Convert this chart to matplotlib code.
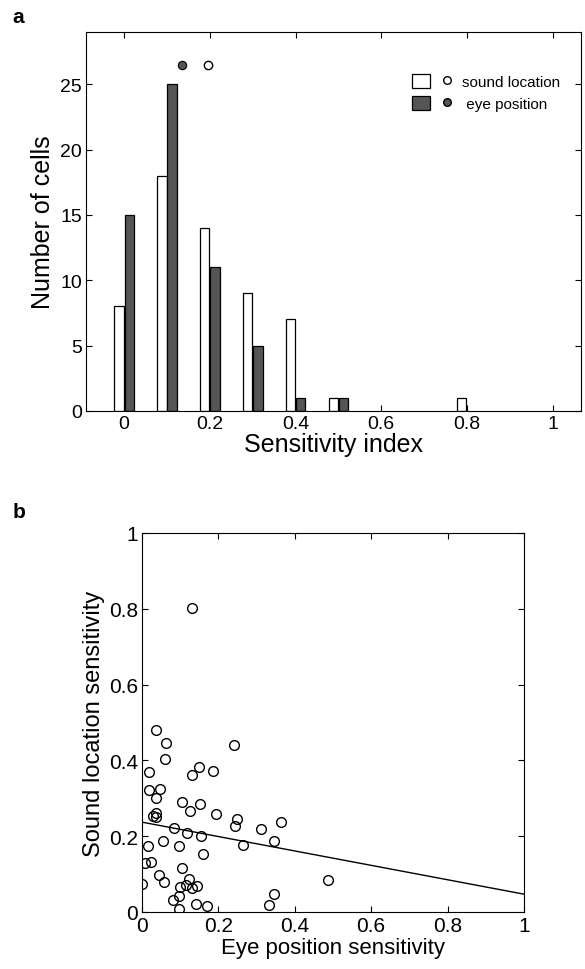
import matplotlib
matplotlib.use("Agg")
import matplotlib.pyplot as plt
from matplotlib.patches import Rectangle
from matplotlib.lines import Line2D
from matplotlib.legend_handler import HandlerTuple
import numpy as np

plt.rcParams['font.family'] = ['Liberation Sans', 'DejaVu Sans']

# panel a: histogram of sensitivity index
sound_bins = [0.0, 0.1, 0.2, 0.3, 0.4, 0.5, 0.8]
sound_counts = [8, 18, 14, 9, 7, 1, 1]
eye_bins = [0.0, 0.1, 0.2, 0.3, 0.4, 0.5]
eye_counts = [15, 25, 11, 5, 1, 1]
sound_median = 0.195
eye_median = 0.135
median_row = 26.5

# panel b: eye position vs sound location sensitivity
eye_sens = [0.132, 0.038, 0.064, 0.060, 0.019, 0.241, 0.130, 0.149, 0.186,
            0.019, 0.048, 0.037, 0.105, 0.151, 0.125, 0.036, 0.038, 0.030,
            0.194, 0.250, 0.243, 0.364, 0.311, 0.084, 0.118, 0.155, 0.346,
            0.055, 0.017, 0.098, 0.264, 0.159, 0.007, 0.024, 0.104, 0.045,
            0.058, 0.001, 0.124, 0.114, 0.099, 0.131, 0.144, 0.488, 0.346,
            0.333, 0.096, 0.081, 0.141, 0.170, 0.097]
sound_sens = [0.801, 0.481, 0.446, 0.404, 0.370, 0.441, 0.361, 0.382, 0.373,
              0.323, 0.325, 0.300, 0.291, 0.285, 0.267, 0.260, 0.250, 0.252,
              0.258, 0.244, 0.228, 0.238, 0.219, 0.222, 0.208, 0.200, 0.187,
              0.187, 0.175, 0.175, 0.178, 0.153, 0.129, 0.132, 0.117, 0.098,
              0.080, 0.075, 0.088, 0.071, 0.067, 0.064, 0.069, 0.085, 0.047,
              0.018, 0.043, 0.032, 0.022, 0.016, 0.008]
fit_intercept = 0.237
fit_slope = -0.19

dark = '#555555'
fig = plt.figure(figsize=(5.85, 9.7), dpi=100)

# ---- panel a
ax = fig.add_axes([0.147, 0.5753, 0.846, 0.3907])
w = 0.022
ax.bar(np.array(sound_bins) - 0.012, sound_counts, width=w, color='white',
       edgecolor='black', linewidth=0.9)
ax.bar(np.array(eye_bins) + 0.012, eye_counts, width=w, color=dark,
       edgecolor='black', linewidth=0.9)
ax.plot([eye_median], [median_row], 'o', ms=6, mfc=dark, mec='black', mew=0.8)
ax.plot([sound_median], [median_row], 'o', ms=6, mfc='white', mec='black', mew=1)
ax.set_xlim(-0.089, 1.066)
ax.set_ylim(0, 29)
ax.set_xticks([0, 0.2, 0.4, 0.6, 0.8, 1])
ax.set_xticklabels(['0', '0.2', '0.4', '0.6', '0.8', '1'])
ax.set_yticks([0, 5, 10, 15, 20, 25])
ax.tick_params(direction='in', top=True, right=True, length=4, labelsize=14,
               pad=3)
ax.set_xlabel('Sensitivity index', fontsize=18, labelpad=0)
ax.set_ylabel('Number of cells', fontsize=18, labelpad=4)

h_sound = (Rectangle((0, 0), 1, 1, fc='white', ec='black', lw=0.9),
           Line2D([], [], ls='none', marker='o', ms=5.5, mfc='white', mec='black'))
h_eye = (Rectangle((0, 0), 1, 1, fc=dark, ec='black', lw=0.9),
         Line2D([], [], ls='none', marker='o', ms=5.5, mfc=dark, mec='black'))
ax.legend([h_sound, h_eye], ['sound location', ' eye position'],
          handler_map={tuple: HandlerTuple(ndivide=None, pad=0.5)},
          frameon=False, fontsize=11, loc='upper right',
          bbox_to_anchor=(0.985, 0.925), handlelength=2.9, handleheight=1.0,
          handletextpad=0.35, labelspacing=0.45)

fig.text(0.022, 0.982, 'a', fontsize=15, fontweight='bold', va='center')

# ---- panel b
bx = fig.add_axes([0.2427, 0.0588, 0.653, 0.3907])
bx.plot(eye_sens, sound_sens, 'o', ls='none', ms=7, mfc='none',
        mec='black', mew=1)
xs = np.array([0.0, 1.0])
bx.plot(xs, fit_intercept + fit_slope * xs, color='black', lw=1)
bx.set_xlim(0, 1)
bx.set_ylim(0, 1)
ticks = [0, 0.2, 0.4, 0.6, 0.8, 1]
labels = ['0', '0.2', '0.4', '0.6', '0.8', '1']
bx.set_xticks(ticks)
bx.set_xticklabels(labels)
bx.set_yticks(ticks)
bx.set_yticklabels(labels)
bx.tick_params(direction='in', top=True, right=True, length=4, labelsize=15,
               pad=3)
bx.set_xlabel('Eye position sensitivity', fontsize=16, labelpad=1)
bx.set_ylabel('Sound location sensitivity', fontsize=17, labelpad=3)

fig.text(0.022, 0.472, 'b', fontsize=15, fontweight='bold', va='center')

fig.savefig('out.png', dpi=100)
